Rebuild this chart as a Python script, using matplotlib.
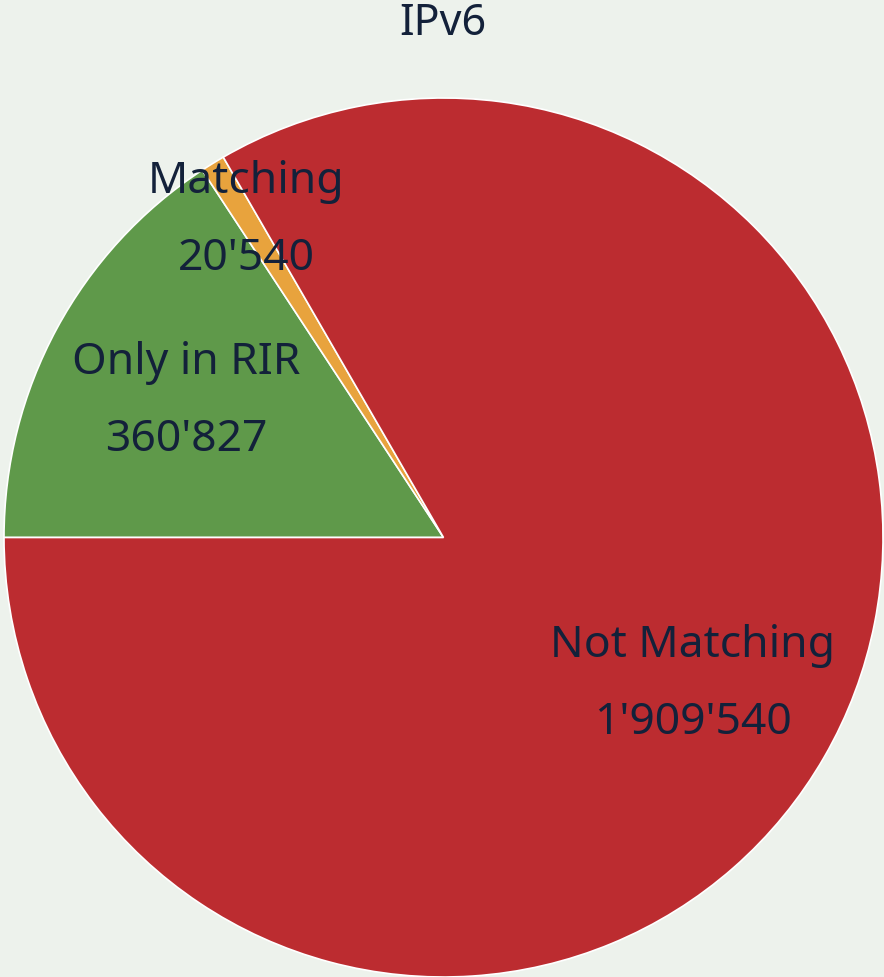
import matplotlib
matplotlib.use("Agg")
import matplotlib.pyplot as plt
import numpy as np

categories = ["Only in RIR", "Matching", "Not Matching"]
values = [360827, 20540, 1909540]
value_labels = ["360'827", "20'540", "1'909'540"]
colors = ["#5F994A", "#E8A33D", "#BC2C30"]
label_radius = [0.665, 0.855, 0.655]

bg = "#EDF2EC"
txt = "#13213A"

W, H = 884, 977
fig = plt.figure(figsize=(W / 100, H / 100), dpi=100, facecolor=bg)
cx, cy, r = 443.5, 537.5, 439.5
ax = fig.add_axes([(cx - r) / W, (H - cy - r) / H, 2 * r / W, 2 * r / H])
ax.set_facecolor(bg)

wedges, _ = ax.pie(values, colors=colors, startangle=180, counterclock=False,
                   radius=1.0, center=(0, 0),
                   wedgeprops=dict(edgecolor="white", linewidth=1.2))
ax.set_xlim(-1, 1)
ax.set_ylim(-1, 1)
ax.set_aspect("equal")
ax.axis("off")

font = "Noto Sans"
fs = 32
for w, name, vl, lr in zip(wedges, categories, value_labels, label_radius):
    ang = np.deg2rad((w.theta1 + w.theta2) / 2)
    x, y = lr * np.cos(ang), lr * np.sin(ang) - 0.007
    ax.text(x, y + 0.088, name, ha="center", va="center", fontsize=fs,
            color=txt, family=font)
    ax.text(x, y - 0.088, vl, ha="center", va="center", fontsize=fs,
            color=txt, family=font)

fig.text(443 / W, 1 - 24 / H, "IPv6", ha="center", va="center", fontsize=31,
         color=txt, family=font)

fig.savefig("out.png", dpi=100, facecolor=bg)
